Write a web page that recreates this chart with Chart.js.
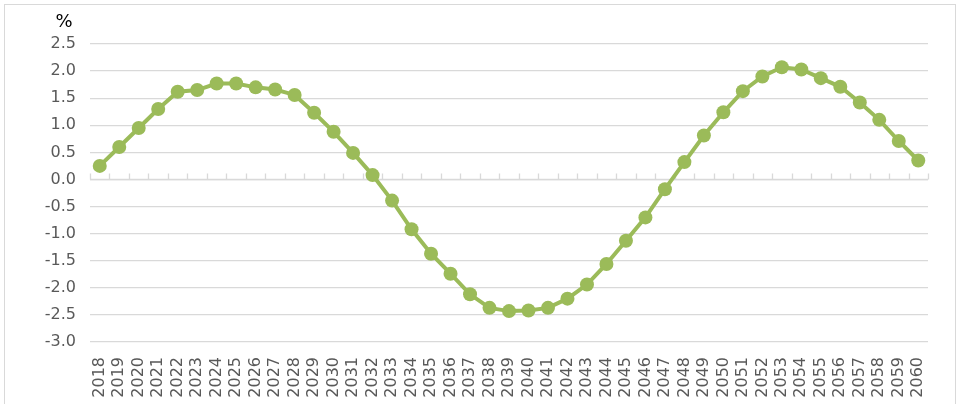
<!DOCTYPE html>
<html>
<head>
<meta charset="utf-8">
<script src="https://cdn.jsdelivr.net/npm/chart.js@4"></script>
<style>
  body { margin: 0; background: #fff; }
  #wrap { position: relative; width: 957px; height: 404px; overflow: hidden; }
  #frame { position: absolute; left: 4px; top: 4px; width: 950px; height: 420px; border: 1px solid #d9d9d9; }
  canvas { position: absolute; left: 0; top: 0; }
</style>
</head>
<body>
<div id="wrap">
  <div id="frame"></div>
  <canvas id="chart" width="957" height="404"></canvas>
</div>
<script>
const years = [];
for (let y = 2018; y <= 2060; y++) years.push(String(y));

const values = [
  0.25, 0.60, 0.95, 1.30, 1.62, 1.65, 1.77, 1.77, 1.70, 1.66,
  1.56, 1.23, 0.88, 0.49, 0.08, -0.39, -0.92, -1.37, -1.74, -2.12,
  -2.37, -2.43, -2.42, -2.37, -2.20, -1.94, -1.56, -1.13, -0.70, -0.18,
  0.32, 0.81, 1.24, 1.63, 1.90, 2.07, 2.03, 1.87, 1.71, 1.42,
  1.10, 0.71, 0.35
];

const unitLabel = '%';
const green = '#9BBB59';
const grey = '#d9d9d9';
const textGrey = '#595959';
const font = 'DejaVu Sans';

// zero axis line with small tick marks at category boundaries, plus the unit label
const axisDecor = {
  id: 'axisDecor',
  beforeDatasetsDraw(chart) {
    const { ctx, chartArea, scales } = chart;
    const x = scales.x, y = scales.y;
    const y0 = Math.round(y.getPixelForValue(0)) + 0.5;
    const half = (x.getPixelForValue(1) - x.getPixelForValue(0)) / 2;
    ctx.save();
    ctx.strokeStyle = grey;
    ctx.lineWidth = 1.3;
    ctx.beginPath();
    ctx.moveTo(chartArea.left, y0);
    ctx.lineTo(chartArea.right, y0);
    for (let i = 0; i <= years.length; i++) {
      const px = Math.round(x.getPixelForValue(i) - half) + 0.5;
      ctx.moveTo(px, y0);
      ctx.lineTo(px, y0 - 6);
    }
    ctx.stroke();
    ctx.restore();
  },
  afterDraw(chart) {
    const { ctx, scales } = chart;
    ctx.save();
    ctx.fillStyle = '#000';
    ctx.font = `18px "${font}"`;
    ctx.textAlign = 'center';
    ctx.textBaseline = 'middle';
    ctx.fillText(unitLabel, 64, scales.y.getPixelForValue(2.5) - 22);
    ctx.restore();
  }
};

new Chart(document.getElementById('chart'), {
  type: 'line',
  data: {
    labels: years,
    datasets: [{
      data: values,
      borderColor: green,
      backgroundColor: green,
      borderWidth: 4,
      pointRadius: 7,
      pointBorderWidth: 0,
      pointBackgroundColor: green,
      tension: 0,
    }],
  },
  options: {
    responsive: false,
    animation: false,
    layout: { padding: { top: 44, right: 29, left: 0, bottom: 0 } },
    plugins: { legend: { display: false }, tooltip: { enabled: false } },
    scales: {
      x: {
        offset: true,
        grid: { display: false, drawTicks: false },
        border: { display: false },
        ticks: {
          color: textGrey,
          font: { family: font, size: 16 },
          minRotation: 90,
          maxRotation: 90,
          autoSkip: false,
          padding: 15,
        },
        afterFit(scale) { scale.height = 62; },
      },
      y: {
        min: -3,
        max: 2.5,
        grid: { color: grey, lineWidth: 1.3, drawTicks: false },
        border: { display: false },
        ticks: {
          stepSize: 0.5,
          color: textGrey,
          font: { family: font, size: 16 },
          padding: 14,
          callback: (v) => Number(v).toFixed(1),
        },
        afterFit(scale) { scale.width = 90; },
      },
    },
  },
  plugins: [axisDecor],
});
</script>
</body>
</html>
